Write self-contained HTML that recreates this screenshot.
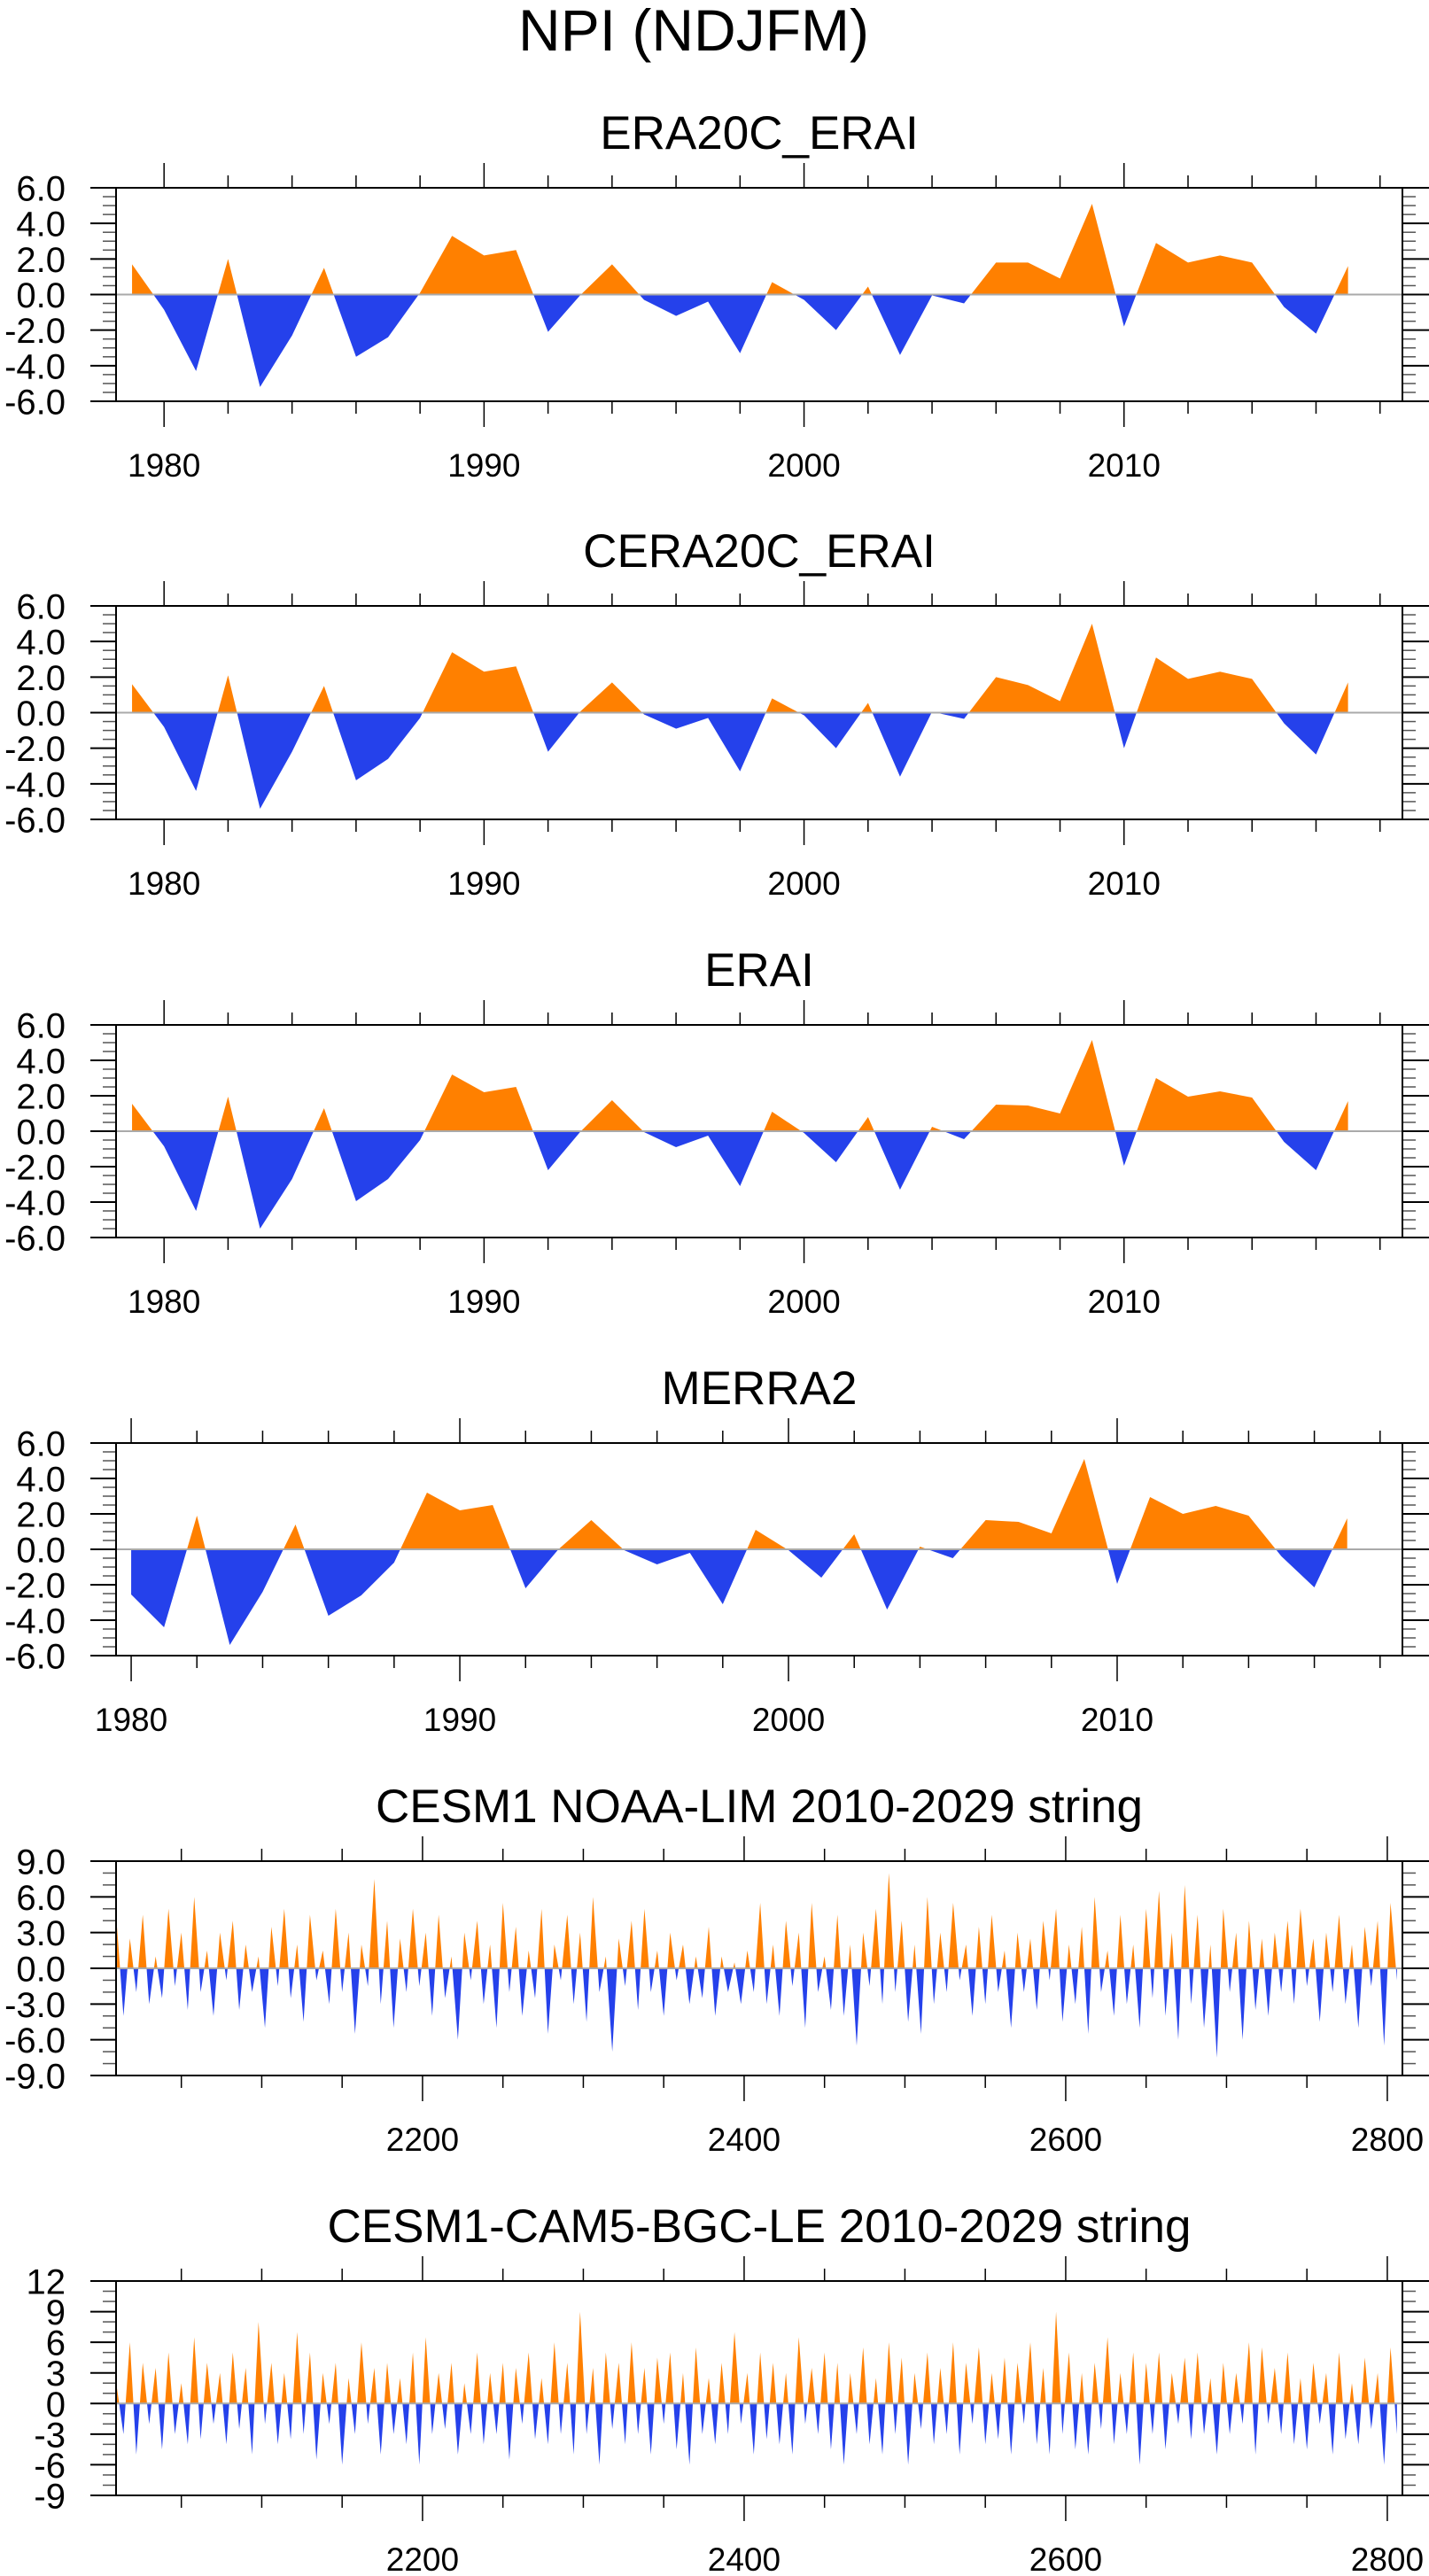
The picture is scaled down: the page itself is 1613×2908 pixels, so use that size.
<!DOCTYPE html>
<html><head><meta charset="utf-8"><style>
html,body{margin:0;padding:0;background:#fff;}
svg{display:block;font-family:"Liberation Sans",Arial,sans-serif;}
</style></head><body>
<svg id="fig" width="1613" height="2908" viewBox="0 0 1613 2908" xmlns="http://www.w3.org/2000/svg">
<text x="783" y="57" font-size="66" text-anchor="middle">NPI (NDJFM)</text>
</svg>
<script>
const yearsA = [1979,1980,1981,1982,1983,1984,1985,1986,1987,1988,1989,1990,1991,1992,1993,1994,1995,1996,1997,1998,1999,2000,2001,2002,2003,2004,2005,2006,2007,2008,2009,2010,2011,2012,2013,2014,2015,2016,2017];
const era20c = [1.7,-0.85,-4.3,2.0,-5.2,-2.3,1.5,-3.5,-2.4,0.1,3.3,2.2,2.5,-2.1,-0.05,1.7,-0.3,-1.2,-0.4,-3.3,0.7,-0.3,-2.0,0.45,-3.4,-0.05,-0.5,1.8,1.8,0.9,5.1,-1.8,2.9,1.8,2.2,1.8,-0.7,-2.2,1.6];
const cera20c = [1.6,-0.8,-4.4,2.1,-5.4,-2.2,1.5,-3.8,-2.6,-0.3,3.4,2.3,2.6,-2.2,0.05,1.7,-0.1,-0.9,-0.3,-3.3,0.8,-0.15,-2.0,0.55,-3.6,0.05,-0.35,2.0,1.55,0.65,5.0,-2.0,3.1,1.9,2.3,1.9,-0.6,-2.35,1.7];
const erai = [1.55,-0.85,-4.5,1.95,-5.5,-2.7,1.3,-3.95,-2.7,-0.5,3.2,2.2,2.5,-2.2,-0.05,1.75,-0.05,-0.9,-0.25,-3.1,1.1,-0.1,-1.75,0.8,-3.3,0.25,-0.45,1.5,1.45,1.0,5.15,-1.95,3.0,1.95,2.25,1.9,-0.6,-2.2,1.7];
const yearsB = [1980,1981,1982,1983,1984,1985,1986,1987,1988,1989,1990,1991,1992,1993,1994,1995,1996,1997,1998,1999,2000,2001,2002,2003,2004,2005,2006,2007,2008,2009,2010,2011,2012,2013,2014,2015,2016,2017];
const merra2 = [-2.55,-4.4,1.9,-5.4,-2.4,1.4,-3.75,-2.6,-0.75,3.2,2.2,2.5,-2.2,0.0,1.65,-0.05,-0.85,-0.2,-3.1,1.1,-0.05,-1.6,0.85,-3.4,0.15,-0.5,1.65,1.55,0.9,5.1,-1.95,2.95,2.0,2.45,1.9,-0.4,-2.15,1.75];
const limValues = [3.5,-4,2.5,-2,4.5,-3,1,-2.5,5,-1.5,3,-3.5,6,-2,1.5,-4,3,-1,4,-3.5,
2,-2,1,-5,3.5,-1.5,5,-2.5,2,-4.5,4.5,-1,1.5,-3,5,-2,3,-5.5,2,-1.5,
7.5,-3,4,-5,2.5,-2,5,-1.5,3,-4,4.5,-2.5,1,-6,3,-1,4,-3,2,-5,
5.5,-2,3.5,-4,1.5,-2.5,5,-5.5,2,-1,4.5,-3,3,-4.5,6,-2,1,-7,2.5,-1.5,
4,-3.5,5,-2,1.5,-4,3,-1,2,-3,1,-2.5,3.5,-4,1,-2,0.5,-3,1.5,-2,
5.5,-3,2,-4,4,-1.5,3,-5,5.5,-2,1,-3.5,4.5,-4,2,-6.5,3,-1.5,5,-3,
8,-2,4,-4.5,2,-5.5,6,-3,3,-2,5.5,-1,2,-4,3.5,-3,4.5,-2,1.5,-5,
3,-2,2.5,-3.5,4,-1,5,-4.5,2,-3,3.5,-5.5,6,-2,1.5,-4,4.5,-3,2,-5,
5,-2.5,6.5,-4,3,-6,7,-3,4.5,-5,2,-7.5,5,-2,3,-6,4,-3.5,2.5,-4,
3,-2,4,-3,5,-1.5,2.5,-4.5,3,-2,4.5,-3,2,-5,3.5,-1.5,4,-6.5,5.5,-1];
const leValues = [1.5,-3,6,-5,4,-2,3.5,-4.5,5,-3,2,-4,6.5,-3.5,4,-2,3,-4,5,-2.5,
3.5,-5,8,-2,4,-4,3,-3.5,7,-3,5,-5.5,3,-2,4,-6,2.5,-3,6,-2,
3.5,-5,4,-3,2.5,-4,5,-6,6.5,-3,3,-2.5,4,-5,2,-3,5,-4,3,-3,
4,-5.5,3.5,-2,5,-3.5,2.5,-4,6,-3,4,-5,9,-3,3.5,-6,5,-2.5,4,-4,
6,-3,3.5,-5,4.5,-2,5,-4.5,3,-6,5.5,-3,2.5,-4,4,-3,7,-2,3,-5,
5,-3.5,4,-4,3,-5,6.5,-2,3.5,-3,5,-4.5,4,-6,3,-3,5.5,-4,2.5,-5,
6,-3,4.5,-6,3,-2.5,5,-4,3.5,-3,6,-5,4,-2,5.5,-4,3,-3.5,4.5,-5,
4,-2,6,-4,3.5,-5,9,-3,5,-4.5,3,-5,4,-2.5,6.5,-4,3,-3,5,-6,
4,-3,5,-4.5,3,-2,4.5,-3.5,5,-3,2.5,-5,4,-3,3,-2,6,-5,5.5,-2,
3.5,-3,5,-4,2.5,-4.5,4,-2,3,-5,5,-3.5,2,-4,4.5,-2.5,3,-6,5.5,-3];
const stringStart = 2010;
const stringStep = 4;
const yearTickLabels = ["1980","1990","2000","2010"];
const stringTickLabels = ["2200","2400","2600","2800"];
const yTicks6 = ["-6.0","-4.0","-2.0","0.0","2.0","4.0","6.0"];
const yTicks9 = ["-9.0","-6.0","-3.0","0.0","3.0","6.0","9.0"];
const yTicks12 = ["-9","-6","-3","0","3","6","9","12"];

const NS = "http://www.w3.org/2000/svg";
const svg = document.getElementById('fig');
function mk(tag, attrs, parent){const e=document.createElementNS(NS,tag);for(const k in attrs)e.setAttribute(k,attrs[k]);(parent||svg).appendChild(e);return e;}
const L=131,R=1583;
let pid=0;
function panel(c){
  pid++;
  const g=mk('g',{});
  
  
  const sx=v=>L+(v-c.x0)/(c.x1-c.x0)*(R-L);
  const sy=v=>c.bot-(v-c.y0)/(c.y1-c.y0)*(c.bot-c.top);
  const t=mk('text',{x:857,y:c.top-44,'font-size':53,'text-anchor':'middle'},g);
  t.textContent=c.title;
  
  
  // area
  const z=sy(0);
  let d='M'+sx(c.xs[0])+','+z;
  for(let i=0;i<c.ys.length;i++) d+=' L'+sx(c.xs[i]).toFixed(2)+','+sy(c.ys[i]).toFixed(2);
  d+=' L'+sx(c.xs[c.xs.length-1])+','+z+' Z';
  const cp=mk('clipPath',{id:'pos'+pid},g); mk('rect',{x:L,y:c.top,width:R-L,height:z-c.top},cp);
  const cn=mk('clipPath',{id:'neg'+pid},g); mk('rect',{x:L,y:z,width:R-L,height:c.bot-z},cn);
  const pa=mk('path',{d:d,fill:'#FF8000','clip-path':'url(#pos'+pid+')'},g);
  
  
  const na=mk('path',{d:d,fill:'#2541EB','clip-path':'url(#neg'+pid+')'},g);
  
  
  mk('line',{x1:L,x2:R,y1:z,y2:z,stroke:'#aaa','stroke-width':2},g);
  // y ticks
  for(let v=c.y0;v<=c.y1+1e-6;v+=c.ymin){
    const y=sy(v); const major=Math.abs((v-c.y0)/c.ymaj-Math.round((v-c.y0)/c.ymaj))<1e-6;
    mk('line',{x1:major?102:116,x2:L,y1:y,y2:y,stroke:major?'#000':'#555','stroke-width':major?2:1.5},g);
    mk('line',{x1:R,x2:major?1613:1598,y1:y,y2:y,stroke:major?'#000':'#555','stroke-width':major?2:1.5},g);
  }
  c.ylabels.forEach((s,i)=>{const v=c.y0+i*c.ymaj;const tt=mk('text',{x:74,y:sy(v)+14.5,'font-size':40,'text-anchor':'end'},g);tt.textContent=s;
    
    });
  // x ticks
  for(let v=c.xminStart;v<=c.x1;v+=c.xmin){
    const x=sx(v); const major=c.xmajors.includes(v);
    mk('line',{x1:x,x2:x,y1:c.top,y2:c.top-(major?28:14),stroke:'#000','stroke-width':1.5},g);
    mk('line',{x1:x,x2:x,y1:c.bot,y2:c.bot+(major?29:14),stroke:'#000','stroke-width':1.5},g);
  }
  c.xlabels.forEach((s,i)=>{const tt=mk('text',{x:sx(c.xmajors[i]),y:c.bot+85,'font-size':37,'text-anchor':'middle'},g);tt.textContent=s;
    
    });
  mk('rect',{x:L,y:c.top,width:R-L,height:c.bot-c.top,fill:'none',stroke:'#000','stroke-width':2},g);
}
const sYears = limValues.map((v,i)=>stringStart+i*stringStep);
const common={y0:-6,y1:6,ymaj:2,ymin:0.5,ylabels:yTicks6,xminStart:1980,xmin:2,xmajors:[1980,1990,2000,2010],xlabels:yearTickLabels};
panel(Object.assign({},common,{name:'era20c-erai',title:'ERA20C_ERAI',top:212,bot:453,x0:1978.5,x1:2018.7,xs:yearsA,ys:era20c}));
panel(Object.assign({},common,{name:'cera20c-erai',title:'CERA20C_ERAI',top:684,bot:925,x0:1978.5,x1:2018.7,xs:yearsA,ys:cera20c}));
panel(Object.assign({},common,{name:'erai',title:'ERAI',top:1157,bot:1397,x0:1978.5,x1:2018.7,xs:yearsA,ys:erai}));
panel(Object.assign({},common,{name:'merra2',title:'MERRA2',top:1629,bot:1869,x0:1979.54,x1:2018.68,xs:yearsB,ys:merra2}));
panel({name:'cesm1-noaa-lim',title:'CESM1 NOAA-LIM 2010-2029 string',top:2101,bot:2343,x0:2009.4,x1:2809.4,y0:-9,y1:9,ymaj:3,ymin:1,ylabels:yTicks9,xminStart:2050,xmin:50,xmajors:[2200,2400,2600,2800],xlabels:stringTickLabels,xs:sYears,ys:limValues});
panel({name:'cesm1-cam5-bgc-le',title:'CESM1-CAM5-BGC-LE 2010-2029 string',top:2575,bot:2817,x0:2009.4,x1:2809.4,y0:-9,y1:12,ymaj:3,ymin:1,ylabels:yTicks12,xminStart:2050,xmin:50,xmajors:[2200,2400,2600,2800],xlabels:stringTickLabels,xs:leValues.map((v,i)=>stringStart+i*stringStep),ys:leValues});
</script>
</body></html>
